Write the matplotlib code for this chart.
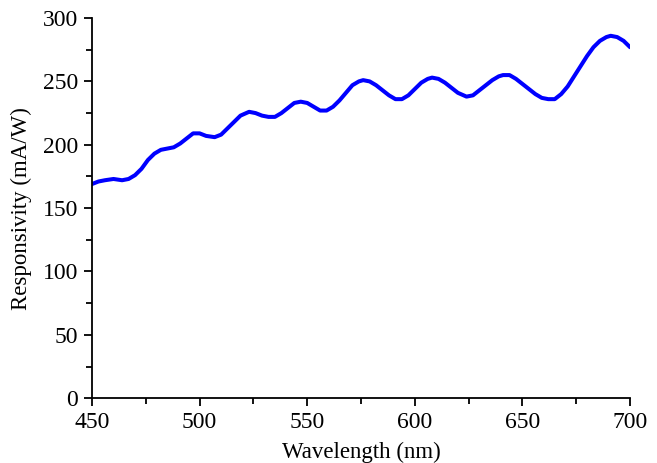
import matplotlib.pyplot as plt
from matplotlib.ticker import MultipleLocator

plt.rcParams['font.family'] = ['Liberation Serif', 'DejaVu Serif']

wavelength = [450, 453, 456, 460, 464, 467, 470, 473, 476, 479, 482, 485, 488,
              491, 494, 497, 500, 503, 507, 510, 513, 516, 519, 523, 526, 529,
              532, 535, 538, 541, 544, 547, 550, 553, 556, 559, 562, 565, 568,
              571, 574, 576, 579, 582, 585, 588, 591, 594, 597, 600, 603, 606,
              608, 611, 614, 617, 620, 624, 627, 630, 633, 636, 639, 641, 644,
              647, 650, 653, 656, 659, 662, 665, 668, 671, 674, 677, 680, 683,
              686, 689, 691, 694, 697, 700]
responsivity = [169, 171, 172, 173, 172, 173, 176, 181, 188, 193, 196, 197, 198,
                201, 205, 209, 209, 207, 206, 208, 213, 218, 223, 226, 225, 223,
                222, 222, 225, 229, 233, 234, 233, 230, 227, 227, 230, 235, 241,
                247, 250, 251, 250, 247, 243, 239, 236, 236, 239, 244, 249, 252,
                253, 252, 249, 245, 241, 238, 239, 243, 247, 251, 254, 255, 255,
                252, 248, 244, 240, 237, 236, 236, 240, 246, 254, 262, 270, 277,
                282, 285, 286, 285, 282, 277]

fig = plt.figure(figsize=(6.57, 4.63), dpi=100)
ax = fig.add_axes([0.140, 0.140, 0.819, 0.821])

ax.plot(wavelength, responsivity, color='#0000ff', lw=2.9,
        solid_capstyle='round', solid_joinstyle='round')

ax.set_xlim(450, 700)
ax.set_ylim(0, 300)
ax.xaxis.set_major_locator(MultipleLocator(50))
ax.xaxis.set_minor_locator(MultipleLocator(25))
ax.yaxis.set_major_locator(MultipleLocator(50))
ax.yaxis.set_minor_locator(MultipleLocator(25))

for side in ('top', 'right'):
    ax.spines[side].set_visible(False)
for side in ('left', 'bottom'):
    ax.spines[side].set_linewidth(1.3)

ax.tick_params(which='major', direction='out', length=6, width=1.3,
               labelsize=17, pad=4)
ax.tick_params(which='minor', direction='out', length=4, width=1.3)

ax.set_xlabel('Wavelength (nm)', fontsize=16.5, labelpad=6)
ax.set_ylabel('Responsivity (mA/W)', fontsize=16.5, labelpad=8)

fig.savefig('out.png', dpi=100)
